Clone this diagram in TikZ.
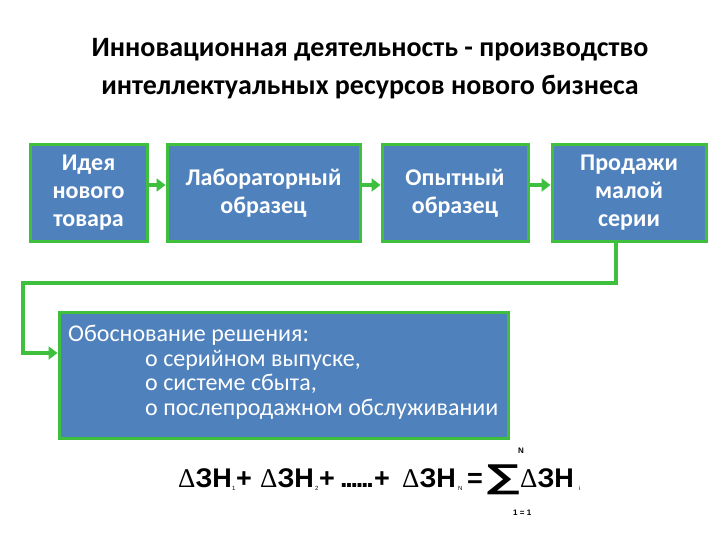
\documentclass[tikz,border=0pt]{standalone}
\usepackage{fontspec}
\usepackage{graphicx}
\setmainfont{Carlito}
\newfontfamily\symf{Liberation Serif}
\newfontfamily\formf{Liberation Sans}
\usetikzlibrary{arrows.meta}
\definecolor{boxblue}{HTML}{4F81BD}
\definecolor{boxgreen}{HTML}{3EC03E}
\begin{document}
\begin{tikzpicture}[x=1pt,y=-1pt,
  blk/.style={draw=boxgreen, line width=3pt, fill=boxblue, text=white,
    font=\bfseries\fontsize{24}{28}\selectfont, align=center, inner sep=0pt},
  conn/.style={draw=boxgreen, line width=4.5pt, line join=miter,
    -{Triangle[length=9pt,width=13pt]}},
  big/.style={font=\formf\bfseries\fontsize{27}{27}\selectfont, inner sep=0pt, anchor=base west},
  subs/.style={font=\formf\fontsize{6}{6}\selectfont, inner sep=0pt, anchor=base west},
  lims/.style={font=\formf\bfseries\fontsize{8}{8}\selectfont, inner sep=0pt, anchor=base west}
]
\useasboundingbox (0,0) rectangle (720,540);
\node[font=\bfseries\fontsize{28}{38}\selectfont, align=center] (title) at (370,69)
  {Инновационная деятельность - производство\\интеллектуальных ресурсов нового бизнеса};

\node[blk, minimum width=117pt, minimum height=96pt] (b1) at (88.5,193) {Идея\\нового\\товара};
\node[blk, minimum width=193pt, minimum height=96pt] (b2) at (263.5,193) {Лабораторный\\образец};
\node[blk, minimum width=146pt, minimum height=96pt] (b3) at (455,193) {Опытный\\образец};
\node[blk, minimum width=154pt, minimum height=96pt] (b4) at (629,193) {Продажи\\малой\\серии};
\node[blk, minimum width=449pt, minimum height=126pt] (b5) at (283.5,375) {};
\node[anchor=north west, align=left, text=white, inner sep=0pt,
  font=\fontsize{24}{24.5}\selectfont] (t5) at (68,325)
  {Обоснование решения:\\\hspace*{77pt}о серийном выпуске,\\\hspace*{77pt}о системе сбыта,\\\hspace*{77pt}о послепродажном обслуживании};

\draw[conn] ([yshift=8pt]b1.east) -- ([yshift=8pt]b2.west);
\draw[conn] ([yshift=8pt]b2.east) -- ([yshift=8pt]b3.west);
\draw[conn] ([yshift=8pt]b3.east) -- ([yshift=8pt]b4.west);
\coordinate (c1) at (616,283);
\coordinate (c2) at (23,283);
\draw[conn] (b4.south -| c1) -- (c1) -- (c2) |- ([yshift=22pt]b5.west);

% formula
\node[big] (d1) at (178,487) {{\symf\mdseries Δ}ЗН};
\node[subs] (s1) at (232,490) {1};
\node[big] (p1) at (236,487) {+};
\node[big] (d2) at (260,487) {{\symf\mdseries Δ}ЗН};
\node[subs] (s2) at (315,490) {2};
\node[big] (p2) at (319,487) {+};
\node[big] (dots) at (340,487) {.\kern-2.3pt.\kern-2.3pt.\kern-2.3pt.\kern-2.3pt.\kern-2.3pt.};
\node[big] (p3) at (374,487) {+};
\node[big] (d3) at (402,487) {{\symf\mdseries Δ}ЗН};
\node[subs] (s3) at (458,490) {N};
\node[big] (eq) at (467,487) {=};
\node[font=\formf\bfseries\fontsize{33}{33}\selectfont, inner sep=0pt, anchor=base west] (sum) at (484,487) {\scalebox{1.6}[1]{∑}};
\node[big] (d4) at (520,487) {{\symf\mdseries Δ}ЗН};
\node[subs] (s4) at (579,490) {i};
\node[lims] (n) at (518,453) {N};
\node[lims] (lo) at (513,515) {1 = 1};
\end{tikzpicture}
\end{document}
